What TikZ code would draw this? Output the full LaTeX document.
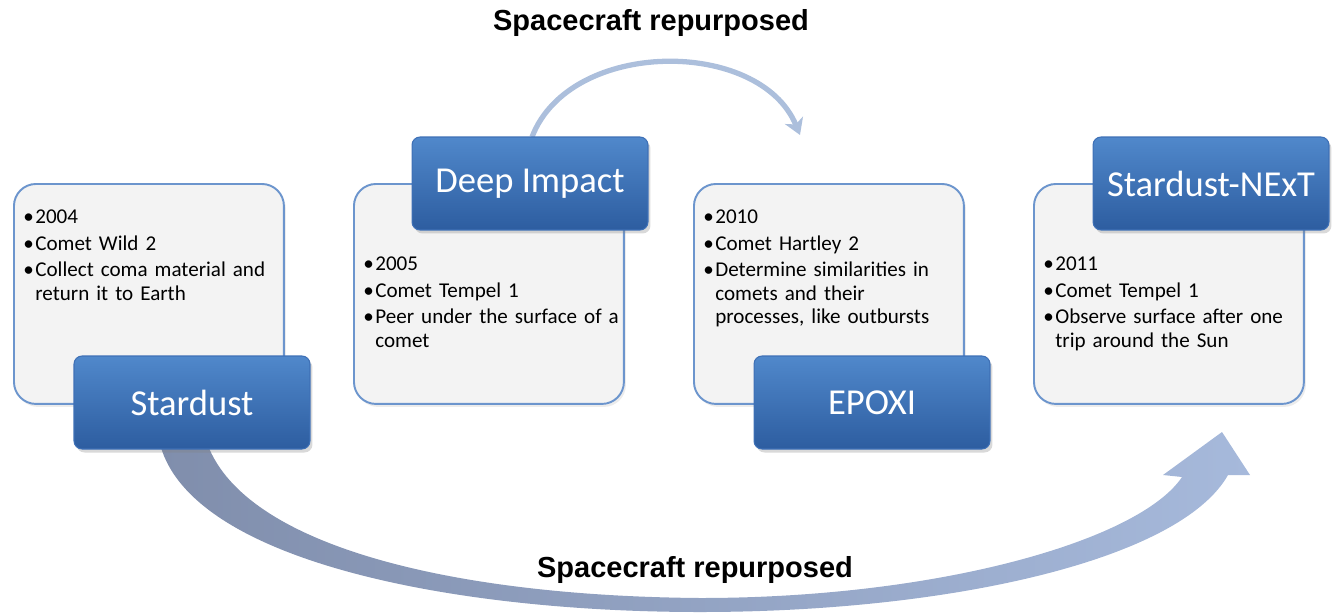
\documentclass[tikz,border=0pt]{standalone}
\usepackage{fontspec}
\setmainfont{Carlito}
\newfontfamily\headfont{Liberation Sans}
\usetikzlibrary{arrows.meta,shadows}
\definecolor{SDboxline}{RGB}{108,149,205}
\definecolor{SDboxfill}{RGB}{243,243,243}
\definecolor{SDtitletop}{RGB}{80,136,203}
\definecolor{SDtitlebot}{RGB}{45,93,160}
\definecolor{SDtitleline}{RGB}{62,112,182}
\definecolor{SDarcleft}{RGB}{128,142,172}
\definecolor{SDarcmid}{RGB}{100,116,148}
\definecolor{SDarcright}{RGB}{166,185,219}
\definecolor{SDthin}{RGB}{172,191,220}
\newcommand{\bul}[1]{\par\hangindent=0.24cm\hangafter=1\noindent\makebox[0.24cm][l]{\textbullet}#1\par}
\newcommand{\nl}{\hfil\break}

\begin{document}
\begin{tikzpicture}[x=0.02cm, y=-0.02cm,
	infobox/.style={draw=SDboxline, line width=1.1pt, fill=SDboxfill, rounded corners=0.44cm,
		minimum width=5.4cm, minimum height=4.4cm, anchor=north west, inner sep=0,
		drop shadow={opacity=0.15, shadow xshift=0.04cm, shadow yshift=-0.06cm}},
	titlebox/.style={draw=SDtitleline, line width=0.6pt, top color=SDtitletop, bottom color=SDtitlebot,
		rounded corners=0.16cm, minimum width=4.72cm, minimum height=1.86cm, text=white,
		font=\fontsize{20.8pt}{25pt}\selectfont,
		drop shadow={opacity=0.3, shadow xshift=0.05cm, shadow yshift=-0.07cm}},
	bullets/.style={anchor=north west, inner sep=0, text width=5.2cm,
		font=\fontsize{12pt}{13.2pt}\selectfont\raggedright\setlength{\parskip}{1.9pt}},
	heading/.style={anchor=base, inner sep=0, font=\headfont\bfseries\fontsize{16.5pt}{19pt}\selectfont}
	]
	\useasboundingbox (0,0) rectangle (1332,613);

	% big arc under the boxes
	\shade [left color=SDarcleft, middle color=SDarcmid, right color=SDarcright]
		(159,440) .. controls (185,560) and (450,612) .. (700,612)
		.. controls (950,612) and (1180,560) .. (1228,475)
		-- (1250,475) -- (1222,432) -- (1163,475) -- (1182,477)
		.. controls (1140,540) and (940,598) .. (700,598)
		.. controls (450,596) and (240,545) .. (206,440) -- cycle;

	\node (i1) [infobox] at (13,183) {};
	\node (i2) [infobox] at (353,183) {};
	\node (i3) [infobox] at (693,183) {};
	\node (i4) [infobox] at (1033,183) {};

	\node (i1txt) [bullets] at (23,197) {\bul{2004}\bul{Comet Wild 2}\bul{Collect coma material and\nl return it to Earth}};
	\node (i2txt) [bullets] at (363,244) {\bul{2005}\bul{Comet Tempel 1}\bul{Peer under the surface of a\nl comet}};
	\node (i3txt) [bullets] at (703,197) {\bul{2010}\bul{Comet Hartley 2}\bul{Determine similarities in\nl comets and their\nl processes, like outbursts}};
	\node (i4txt) [bullets] at (1043,244) {\bul{2011}\bul{Comet Tempel 1}\bul{Observe surface after one\nl trip around the Sun}};

	\coordinate (arcend) at (800,135);
	\draw [line width=3pt, SDthin, -{Stealth[length=9pt, width=11pt, inset=2.5pt]}]
		(532,137) .. controls (570,38) and (760,38) .. (arcend);

	\node (t1) [titlebox] at (192,402.5) {Stardust};
	\node (t2) [titlebox] at (530,183.5) {Deep Impact};
	\node (t3) [titlebox] at (872,402.5) {EPOXI};
	\node (t4) [titlebox] at (1211,183.5) {Stardust-NExT};

	\node (hdtop) [heading] at (651,30) {Spacecraft repurposed};
	\node (hdbot) [heading] at (695,577) {Spacecraft repurposed};
\end{tikzpicture}
\end{document}
